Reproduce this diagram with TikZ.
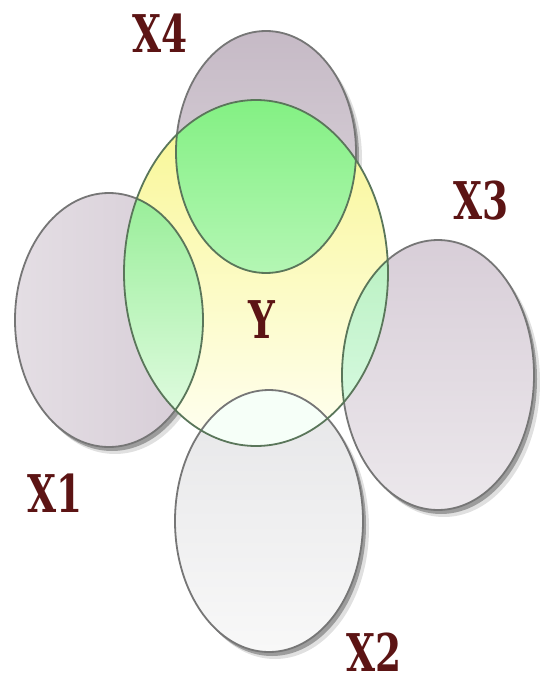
\documentclass[tikz,border=0pt]{standalone}
\usepackage{fontspec}
\newfontfamily\labfont{DejaVu Serif}
\definecolor{labred}{HTML}{5C1414}
\definecolor{xline}{HTML}{767676}
\definecolor{yline}{HTML}{5A765A}
\definecolor{xfourtop}{HTML}{C6BAC6}
\definecolor{xfourbot}{HTML}{DCD6DC}
\definecolor{xoneleft}{HTML}{E4DEE4}
\definecolor{xoneright}{HTML}{D6CCD6}
\definecolor{xthreetop}{HTML}{D8CED8}
\definecolor{xthreebot}{HTML}{ECE8EC}
\definecolor{xtwotop}{HTML}{E6E6E8}
\definecolor{xtwobot}{HTML}{F8F8F8}
\definecolor{ytop}{HTML}{F8F690}
\definecolor{ybot}{HTML}{FFFFF2}
\definecolor{gfourtop}{HTML}{70EE70}
\definecolor{gfourbot}{HTML}{B4F6B4}
\definecolor{gonetop}{HTML}{98EE98}
\definecolor{gonebot}{HTML}{EAFDEA}
\definecolor{gthreetop}{HTML}{B8F0C0}
\definecolor{gthreebot}{HTML}{E8FFF2}
\definecolor{gtwo}{HTML}{F6FFF8}
\tikzset{
  xshadow/.style={fill=black, opacity=0.3},
  xshadowsoft/.style={fill=black, opacity=0.12},
  xedge/.style={draw=xline, line width=1.8pt},
  yedge/.style={draw=yline, line width=1.8pt},
  lab/.style={text=labred, font=\labfont\bfseries\fontsize{52}{52}\selectfont, xscale=0.72, inner sep=0pt}
}
\begin{document}
\begin{tikzpicture}[x=1pt,y=-1pt]
\useasboundingbox[fill=white] (0,0) rectangle (539,687);
% coordinates of centres
\coordinate (cX1) at (109,320);
\coordinate (cX2) at (269,521);
\coordinate (cX3) at (438,375);
\coordinate (cX4) at (266,152);
\coordinate (cY)  at (256,273);
% shadows
\fill[xshadowsoft] ([shift={(6,7)}]cX1) ellipse [x radius=94pt, y radius=127pt];
\fill[xshadowsoft] ([shift={(6,7)}]cX3) ellipse [x radius=96pt, y radius=135pt];
\fill[xshadowsoft] ([shift={(6,7)}]cX4) ellipse [x radius=90pt, y radius=121pt];
\fill[xshadow] ([shift={(3,4)}]cX1) ellipse [x radius=94pt, y radius=127pt];
\fill[xshadow] ([shift={(3,4)}]cX3) ellipse [x radius=96pt, y radius=135pt];
\fill[xshadow] ([shift={(3,4)}]cX4) ellipse [x radius=90pt, y radius=121pt];
% X fills
\shade[top color=xfourtop, bottom color=xfourbot] (cX4) ellipse [x radius=90pt, y radius=121pt];
\shade[left color=xoneleft, right color=xoneright] (cX1) ellipse [x radius=94pt, y radius=127pt];
\shade[top color=xthreetop, bottom color=xthreebot] (cX3) ellipse [x radius=96pt, y radius=135pt];
\fill[xshadowsoft] ([shift={(6,7)}]cX2) ellipse [x radius=94pt, y radius=131pt];
\fill[xshadow] ([shift={(3,4)}]cX2) ellipse [x radius=94pt, y radius=131pt];
\shade[top color=xtwotop, bottom color=xtwobot] (cX2) ellipse [x radius=94pt, y radius=131pt];
% Y fill
\shade[top color=ytop, bottom color=ybot] (cY) ellipse [x radius=132pt, y radius=173pt];
% intersections
\begin{scope}
  \clip (cY) ellipse [x radius=132pt, y radius=173pt];
  \shade[top color=gfourtop, bottom color=gfourbot] (cX4) ellipse [x radius=90pt, y radius=121pt];
  \shade[top color=gonetop, bottom color=gonebot] (cX1) ellipse [x radius=94pt, y radius=127pt];
  \shade[top color=gthreetop, bottom color=gthreebot] (cX3) ellipse [x radius=96pt, y radius=135pt];
  \fill[fill=gtwo] (cX2) ellipse [x radius=94pt, y radius=131pt];
\end{scope}
% outlines inside Y
\begin{scope}
  \clip (cY) ellipse [x radius=132pt, y radius=173pt];
  \draw[yedge] (cX4) ellipse [x radius=90pt, y radius=121pt];
  \draw[yedge] (cX1) ellipse [x radius=94pt, y radius=127pt];
  \draw[yedge] (cX3) ellipse [x radius=96pt, y radius=135pt];
  \draw[xedge] (cX2) ellipse [x radius=94pt, y radius=131pt];
\end{scope}
% outlines outside Y
\begin{scope}[even odd rule]
  \clip (0,0) rectangle (539,687) (cY) ellipse [x radius=132pt, y radius=173pt];
  \draw[xedge] (cX4) ellipse [x radius=90pt, y radius=121pt];
  \draw[xedge] (cX1) ellipse [x radius=94pt, y radius=127pt];
  \draw[xedge] (cX3) ellipse [x radius=96pt, y radius=135pt];
  \draw[xedge] (cX2) ellipse [x radius=94pt, y radius=131pt];
\end{scope}
\draw[yedge] (cY) ellipse [x radius=132pt, y radius=173pt];
% labels
\node[lab] (lX4) at (160,33) {X4};
\node[lab] (lX3) at (481,201) {X3};
\node[lab] (lX1) at (55,493) {X1};
\node[lab] (lX2) at (374,652) {X2};
\node[lab] (lY) at (262,320) {Y};
\end{tikzpicture}
\end{document}
